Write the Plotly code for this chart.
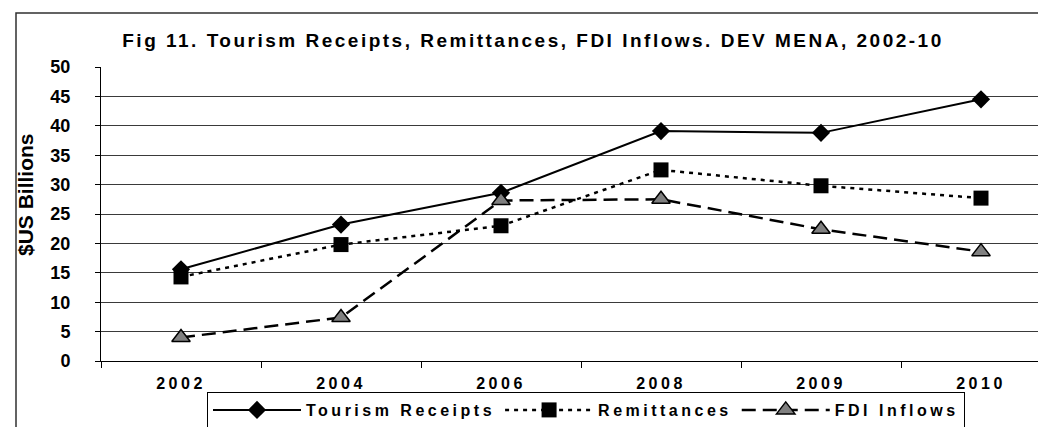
import plotly.graph_objects as go

# values, $US billions
years = ["2002", "2004", "2006", "2008", "2009", "2010"]
tourism_receipts = [15.6, 23.2, 28.6, 39.1, 38.8, 44.5]
remittances = [14.3, 19.8, 23.0, 32.5, 29.8, 27.7]
fdi_inflows = [4.0, 7.4, 27.3, 27.5, 22.4, 18.6]

FONT = "Arial, Liberation Sans, sans-serif"

# plot area in pixels (the right side of the original is cropped)
W, H = 1046, 427
L, T, B = 93, 59, 74
plot_w = W - L
plot_h = H - T - B


def px_x(px):
    return (px - L) / plot_w


def px_y(py):
    return (H - B - py) / plot_h


fig = go.Figure()

fig.add_trace(go.Scatter(
    x=years, y=tourism_receipts, name="Tourism Receipts",
    mode="lines+markers",
    line=dict(color="black", width=2),
    marker=dict(symbol="diamond", size=14, color="black"),
))
fig.add_trace(go.Scatter(
    x=years, y=remittances, name="Remittances",
    mode="lines+markers",
    line=dict(color="black", width=2.5, dash="4px,5px"),
    marker=dict(symbol="square", size=15, color="black"),
))
fig.add_trace(go.Scatter(
    x=years, y=fdi_inflows, name="FDI Inflows",
    mode="lines+markers",
    line=dict(color="black", width=2.5, dash="14px,7px"),
    marker=dict(symbol="triangle-up", size=16, color="#808080",
                line=dict(color="black", width=1.5)),
))

# outer chart frame, partly outside the visible page
fig.add_shape(
    type="rect", xref="paper", yref="paper",
    x0=px_x(8), x1=1.2,
    y0=-0.5, y1=px_y(5),
    line=dict(color="#303030", width=1.5), layer="below",
)

# y axis title placed by hand
fig.add_annotation(
    text="<b>$US Billions</b>",
    xref="paper", yref="paper",
    x=px_x(17), y=px_y(187),
    xanchor="center", yanchor="middle",
    textangle=-90, showarrow=False,
    font=dict(size=21, family=FONT, color="black"),
)

fig.update_layout(
    width=W, height=H,
    margin=dict(l=L, r=0, t=T, b=B),
    paper_bgcolor="white",
    plot_bgcolor="white",
    font=dict(family=FONT, color="black"),
    title=dict(
        text="<b>Fig 11. Tourism Receipts, Remittances, FDI Inflows. DEV MENA, 2002-10</b>",
        font=dict(size=19, family=FONT, color="black"),
        x=525 / W, xanchor="center",
        y=1 - 32 / H, yanchor="middle",
    ),
    showlegend=True,
    legend=dict(
        orientation="h",
        x=px_x(578), xanchor="center",
        y=px_y(384), yanchor="top",
        bordercolor="black", borderwidth=1,
        bgcolor="white",
        font=dict(size=16, family=FONT, color="black", weight="bold"),
        itemwidth=88,
        tracegroupgap=0,
    ),
    xaxis=dict(
        type="category",
        range=[-0.5, -0.5 + plot_w / 160],
        tickson="boundaries",
        ticks="outside", ticklen=6, tickcolor="black", tickwidth=1,
        showline=True, linecolor="black", linewidth=1,
        showgrid=False,
        tickfont=dict(size=16, family=FONT, color="black", weight="bold"),
        ticklabelstandoff=8,
    ),
    yaxis=dict(
        range=[0, 50],
        dtick=5,
        ticks="outside", ticklen=5, tickcolor="black",
        showline=True, linecolor="black", linewidth=1,
        showgrid=True, gridcolor="#3a3a3a", gridwidth=1,
        zeroline=False,
        tickfont=dict(size=18, family=FONT, color="black", weight="bold"),
        ticklabelstandoff=21,
    ),
)

# the original uses letter-spaced text; add the spacing and re-measure the legend
spacing_js = """
var gd = document.getElementById('{plot_id}');
var st = document.createElement('style');
st.textContent = '.gtitle {letter-spacing: 2.5px;} .xtick text, .legendtext {letter-spacing: 3.5px;}';
document.head.appendChild(st);
Plotly.relayout(gd, {'legend.font.size': 16.01});
"""

fig.write_html("out.html", post_script=spacing_js)
